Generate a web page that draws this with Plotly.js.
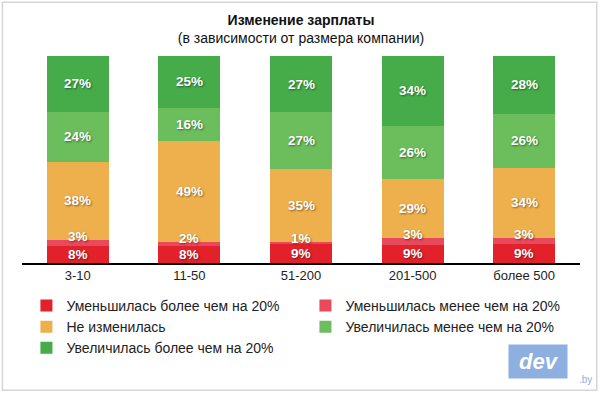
<!DOCTYPE html>
<html>
<head>
<meta charset="utf-8">
<script src="https://cdn.plot.ly/plotly-3.0.1.min.js"></script>
<style>html,body{margin:0;padding:0;background:#fff;}#chart{width:600px;height:394px;}</style>
</head>
<body>
<div id="chart"></div>
<script>
const categories = ["3-10", "11-50", "51-200", "201-500", "более 500"];
const seriesNames = [
  "Уменьшилась более чем на 20%",
  "Уменьшилась менее чем на 20%",
  "Не изменилась",
  "Увеличилась менее чем на 20%",
  "Увеличилась более чем на 20%"
];
const decreasedMore = [8, 8, 9, 9, 9];
const decreasedLess = [3, 2, 1, 3, 3];
const unchanged = [38, 49, 35, 29, 34];
const increasedLess = [24, 16, 27, 26, 26];
const increasedMore = [27, 25, 27, 34, 28];
const colors = ["#e3212b", "#e8495b", "#eeb04d", "#6bbe5b", "#45ac49"];

const series = [decreasedMore, decreasedLess, unchanged, increasedLess, increasedMore];
const FONT = "Liberation Sans, Arial, sans-serif";

const traces = series.map((vals, i) => ({
  type: "bar",
  name: seriesNames[i],
  x: categories,
  y: vals,
  marker: {color: colors[i], line: {width: 0}},
  hoverinfo: "skip"
}));

// labels positioned through data coordinates (normalized to 100%)
const annotations = [];
categories.forEach((c, ci) => {
  const total = series.reduce((s, arr) => s + arr[ci], 0);
  let cum = 0;
  series.forEach((arr, si) => {
    const v = arr[ci];
    const base = cum / total * 100;
    const top = (cum + v) / total * 100;
    const small = si === 1;
    annotations.push({
      x: c, y: small ? top : (base + top) / 2,
      xref: "x", yref: "y",
      text: v + "%",
      showarrow: false,
      xanchor: "center", yanchor: "middle",
      yshift: small ? 4 : 0,
      font: {family: FONT, size: 13.5, color: "#ffffff", weight: "bold",
             shadow: "1px 1px 2px rgba(0,0,0,0.45)"}
    });
    cum += v;
  });
});

// logo
annotations.push({
  xref: "paper", yref: "paper", x: 0.925, y: -0.478,
  xanchor: "center", yanchor: "middle",
  text: "<b><i> dev </i></b>", showarrow: false,
  bgcolor: "#8db0e0", borderpad: 4,
  font: {family: FONT, size: 22, color: "#ffffff"}
});
annotations.push({
  xref: "paper", yref: "paper", x: 1.01, y: -0.565,
  xanchor: "center", yanchor: "middle",
  text: ".by", showarrow: false,
  font: {family: FONT, size: 10, color: "#8db0e0"}
});

const layout = {
  width: 600, height: 394,
  paper_bgcolor: "#ffffff", plot_bgcolor: "#ffffff",
  margin: {l: 22, r: 20, t: 56, b: 131, autoexpand: false},
  barmode: "stack",
  barnorm: "percent",
  bargap: 0.444,
  title: {
    text: "<b>Изменение зарплаты</b><br>(в зависимости от размера компании)",
    x: 0.5, xanchor: "center", xref: "paper",
    y: 0.937, yanchor: "top", yref: "container",
    font: {family: FONT, size: 14, color: "#111"}
  },
  xaxis: {
    type: "category",
    showline: true, linecolor: "#000", linewidth: 1.5,
    showgrid: false, zeroline: false, ticks: "",
    tickfont: {family: FONT, size: 13, color: "#222"},
    fixedrange: true
  },
  yaxis: {
    range: [0, 100], visible: false, fixedrange: true
  },
  showlegend: true,
  legend: {
    orientation: "h", traceorder: "normal",
    x: -0.0064, xanchor: "left", y: -0.091, yanchor: "top",
    entrywidth: 234, entrywidthmode: "pixels",
    borderwidth: 8, bordercolor: "rgba(0,0,0,0)", bgcolor: "rgba(0,0,0,0)",
    font: {family: FONT, size: 14, color: "#222"},
    itemclick: false, itemdoubleclick: false,
    tracegroupgap: 0
  },
  shapes: [{
    type: "rect", xref: "paper", yref: "paper",
    x0: -0.035, x1: 1.03, y0: -0.615, y1: 1.26,
    line: {color: "#d6d6d6", width: 1.5}, fillcolor: "rgba(0,0,0,0)", layer: "below"
  }],
  annotations: annotations
};

Plotly.newPlot("chart", traces, layout, {displayModeBar: false, staticPlot: true});
</script>
</body>
</html>
